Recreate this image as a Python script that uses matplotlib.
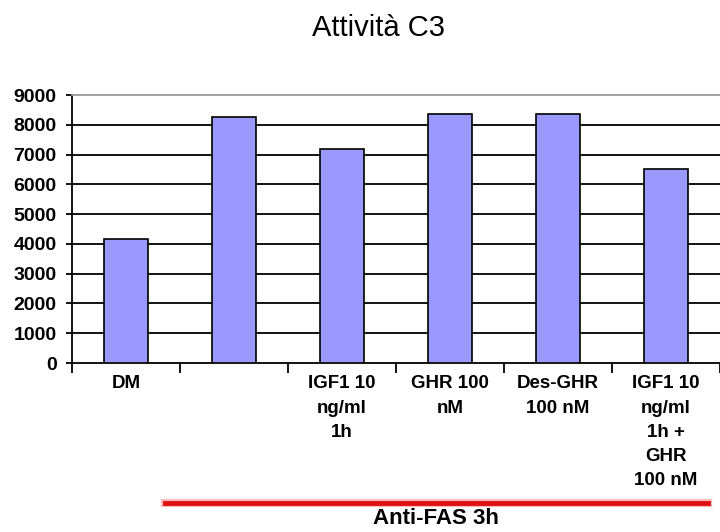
import matplotlib
matplotlib.use("Agg")
import matplotlib.pyplot as plt
from matplotlib.lines import Line2D

categories = ["DM", "", "IGF1 10\nng/ml\n1h", "GHR 100\nnM", "Des-GHR\n100 nM",
              "IGF1 10\nng/ml\n1h +\nGHR\n100 nM"]
values = [4170, 8260, 7180, 8370, 8370, 6510]
yticks = [0, 1000, 2000, 3000, 4000, 5000, 6000, 7000, 8000, 9000]
title = "Attività C3"
group_label = "Anti-FAS 3h"

plt.rcParams['font.family'] = ['Liberation Sans', 'DejaVu Sans']

fig = plt.figure(figsize=(7.2, 5.32), dpi=100)
ax = fig.add_axes([0.1, 1 - 363/532, 0.9, (363 - 95)/532])

x = list(range(len(values)))
ax.bar(x, values, width=0.4, color="#9999FF", edgecolor="black", linewidth=1.2, zorder=3)

ax.set_xlim(-0.5, len(values) - 0.5)
ax.set_ylim(0, 9000)
ax.set_yticks(yticks)
ax.set_yticklabels([str(t) for t in yticks], fontsize=14, fontweight='bold')
for t in yticks[1:-1]:
    ax.axhline(t, color="black", linewidth=1.3, zorder=1)

ax.set_xticks(x)
ax.set_xticklabels(categories, fontsize=13.5, fontweight='bold', linespacing=1.55, va='top')
ax.tick_params(axis='x', which='major', length=0, pad=9)
ax.set_xticks([i - 0.5 for i in range(len(values) + 1)], minor=True)
ax.tick_params(axis='x', which='minor', length=7, width=1.3, direction='out')
ax.tick_params(axis='y', length=4, width=1.3, direction='out', pad=7)

ax.spines['top'].set_color('#999999')
ax.spines['top'].set_linewidth(1.3)
ax.spines['right'].set_visible(False)
ax.spines['left'].set_linewidth(1.3)
ax.spines['bottom'].set_linewidth(1.3)

fig.text(379/720, 1 - 36/532, title, ha='center', va='baseline', fontsize=21)

fig.add_artist(Line2D([165/720, 708/720], [1 - 503/532, 1 - 503/532],
                      color='#FFBBBB', linewidth=6, transform=fig.transFigure))
fig.add_artist(Line2D([165/720, 708/720], [1 - 503/532, 1 - 503/532],
                      color='#DD1111', linewidth=3.5, transform=fig.transFigure))
fig.text(436/720, 1 - 524/532, group_label, ha='center', va='baseline', fontsize=16, fontweight='bold')

fig.savefig("out.png", dpi=100)
